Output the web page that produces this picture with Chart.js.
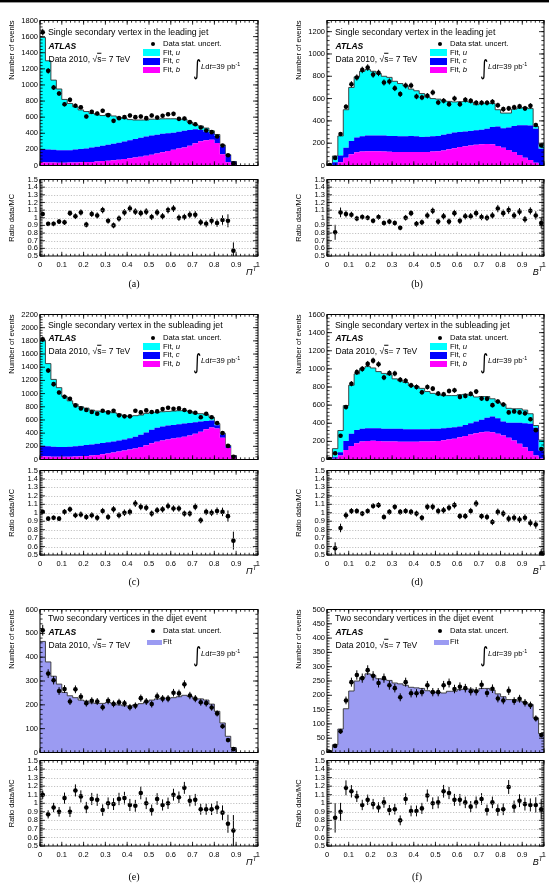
<!DOCTYPE html>
<html>
<head>
<meta charset="utf-8">
<title>Secondary vertex fits</title>
<script src="https://cdn.jsdelivr.net/npm/chart.js@4.4.1/dist/chart.umd.min.js"></script>
<style>
  body { margin: 0; width: 549px; height: 889px; position: relative; overflow: hidden; background: #fff; }
  canvas { position: absolute; }
  .lbl { position: absolute; white-space: nowrap; line-height: 1; color: #000; font-family: 'Liberation Sans', Arial, sans-serif; }
  .lbl sup { font-size: 70%; vertical-align: 0.5em; line-height: 0; }
  .sw { position: absolute; }
  .topbar { position: absolute; left: 0; top: 0; width: 549px; height: 2px; background: #000; border-bottom: 1px solid #999; }
</style>
</head>
<body>
<div class="topbar"></div>
<script>
// every panel: 40 bins between 0 and 1
var NBINS = 40;

// (a) Pi^T, single secondary vertex in the leading jet
var aFitU = [1385,1100,865,760,632,580,532,485,458,423,398,375,382,345,312,288,258,235,220,205,203,192,187,180,172,157,140,98,55,50,45,30,20,20,5,3,0,0,0,0];
var aFitC = [165,162,159,155,153,154,160,165,170,177,182,190,198,205,211,217,222,230,235,240,237,233,228,220,213,208,205,197,175,140,105,80,85,95,90,39,0,0,0,0];
var aFitB = [40,38,36,35,35,36,38,40,42,45,50,55,60,65,72,80,90,100,110,120,135,150,165,180,195,210,225,245,275,300,315,320,280,140,40,8,0,0,0,0];
var aData = [1655,1175,968,894,761,815,741,724,608,666,645,679,625,554,588,600,621,600,608,588,621,596,617,637,641,579,583,538,513,472,434,414,360,248,128,28,null,null,null,null];
var aRatio = [1.05,0.92,0.92,0.95,0.94,1.06,1.02,1.07,0.91,1.05,1.03,1.10,0.96,0.90,0.99,1.07,1.12,1.08,1.06,1.08,1.01,1.07,1.02,1.10,1.12,1.00,1.01,1.04,1.04,0.94,0.92,0.96,0.93,0.97,0.96,0.57,null,null,null,null];

// (b) B^T, single secondary vertex in the leading jet
var bFitU = [8,55,175,340,480,545,583,592,575,557,532,525,490,473,453,420,408,390,357,338,330,305,290,275,272,270,258,230,235,230,210,150,135,130,150,155,160,152,20,40];
var bFitC = [2,25,60,90,120,132,137,140,142,141,142,141,143,142,142,145,142,135,136,137,137,140,140,140,135,133,130,129,130,137,155,175,175,200,235,265,290,308,305,145];
var bFitB = [0,5,30,70,100,118,125,128,128,127,126,124,122,120,120,120,120,120,122,125,128,135,145,155,165,172,180,186,190,193,190,175,160,140,120,95,70,50,25,5];
var bData = [3,68,283,527,729,789,857,878,815,830,744,753,693,640,717,717,619,610,625,655,565,580,550,601,550,589,580,562,562,562,571,540,505,512,522,530,512,535,363,179];
var bRatio = [null,0.81,1.07,1.05,1.04,0.99,1.01,1.00,0.96,1.01,0.93,0.95,0.93,0.87,1.00,1.06,0.92,0.94,1.03,1.09,0.95,1.02,0.95,1.06,0.96,1.02,1.02,1.06,1.01,1.00,1.03,1.12,1.06,1.10,1.03,1.08,0.98,1.09,1.03,0.93];

// (c) Pi^T, single secondary vertex in the subleading jet
var cFitU = [1600,1255,1020,900,765,695,640,590,560,522,497,475,468,435,400,360,333,320,300,290,265,235,225,215,210,205,200,175,135,120,95,50,25,15,10,5,0,0,0,0];
var cFitC = [160,155,153,150,150,153,155,160,165,166,168,170,170,170,170,170,172,177,185,195,205,210,210,210,207,205,200,190,175,155,125,105,50,55,30,20,0,0,0,0];
var cFitB = [50,45,42,40,40,42,45,50,55,62,70,80,92,105,120,135,150,168,190,215,245,270,290,305,318,330,345,365,390,420,460,485,470,330,175,35,0,0,0,0];
var cData = [1823,1350,1143,1017,952,921,821,775,750,720,695,740,715,740,670,655,655,740,715,745,720,730,765,785,770,775,750,725,710,640,695,640,554,403,206,40,null,null,null,null];
var cRatio = [1.01,0.93,0.94,0.93,1.01,1.04,0.97,0.98,0.95,0.97,0.94,1.02,0.95,1.04,0.97,1.00,1.01,1.11,1.07,1.06,0.99,1.03,1.04,1.08,1.05,1.05,0.99,0.99,1.07,0.91,1.01,1.00,1.02,1.01,0.96,0.67,null,null,null,null];

// (d) B^T, single secondary vertex in the subleading jet
var dFitU = [10,95,240,390,535,620,665,680,665,625,610,595,550,532,515,480,470,450,415,392,375,360,355,350,350,340,310,270,255,235,195,180,190,160,155,155,145,110,25,115];
var dFitC = [3,17,35,100,135,145,140,140,138,140,140,140,142,142,140,140,139,137,135,136,135,133,130,125,120,120,125,130,140,155,175,170,155,165,195,230,265,300,305,88];
var dFitB = [2,8,45,105,150,180,200,205,207,205,200,200,198,196,195,195,196,198,200,202,205,212,220,230,245,260,275,290,300,305,300,285,265,240,210,175,135,95,45,12];
var dData = [5,69,262,578,836,964,1000,1055,1091,1051,905,953,949,880,869,818,800,742,800,782,727,720,756,764,691,702,724,749,673,669,600,640,607,520,531,520,509,444,324,116];
var dRatio = [null,0.58,0.82,0.97,1.02,1.02,0.99,1.02,1.08,1.09,0.95,1.01,1.07,1.01,1.02,1.01,0.99,0.94,1.07,1.07,1.02,1.03,1.06,1.09,0.96,0.96,1.02,1.11,0.96,0.95,0.89,1.01,0.99,0.93,0.94,0.92,0.94,0.88,0.86,0.52];

// (e) Pi^T, two secondary vertices in the dijet event
var eFit = [466,380,320,287,252,238,230,220,216,208,206,206,210,205,200,196,195,200,205,212,220,225,228,228,230,234,240,235,225,225,220,203,173,124,68,21,0,0,0,0];
var eData = [513,331,303,258,266,214,265,234,207,217,214,190,217,204,211,206,190,196,228,214,203,236,226,226,251,248,286,239,226,211,207,189,164,110,52,14,null,null,null,null];
var eRatio = [1.10,0.87,0.95,0.90,1.06,0.90,1.15,1.08,0.95,1.05,1.04,0.92,1.00,0.99,1.05,1.06,0.98,0.97,1.12,1.00,0.92,1.05,0.98,1.00,1.10,1.07,1.18,1.03,1.04,0.93,0.93,0.93,0.95,0.89,0.76,0.68,null,null,null,null];

// (f) B^T, two secondary vertices in the dijet event
var fFit = [3,27,82,153,215,250,262,275,270,258,255,252,243,240,235,228,226,224,216,212,210,208,214,214,220,222,222,215,224,224,218,205,195,185,185,180,175,168,121,66];
var fData = [2,23,74,182,246,271,260,288,268,243,260,235,225,193,246,207,207,211,235,211,211,235,243,222,230,225,214,214,237,208,223,189,182,216,180,188,174,165,119,61];
var fRatio = [null,0.83,0.90,1.18,1.14,1.08,0.98,1.04,0.99,0.95,1.01,0.92,0.93,0.80,1.05,0.91,0.91,0.94,1.09,1.00,1.01,1.14,1.12,1.04,1.04,1.01,0.96,1.01,1.05,0.92,1.01,0.92,0.93,1.19,0.96,1.03,0.99,0.98,0.98,0.93];

// page layout (plot frames in page pixels)
var ROWS = [
  { pt: 20,  pb: 166, rt: 179, rb: 256, cap: 284, tdy: 12,   ldy: 24 },
  { pt: 314, pb: 460, rt: 470, rb: 555, cap: 582, tdy: 10.5, ldy: 24 },
  { pt: 609, pb: 753, rt: 760, rb: 846, cap: 877, tdy: 9,    ldy: 22 }
];
var COLS = [ { l: 40, r: 258, cap: 134 }, { l: 327, r: 544, cap: 417 } ];

var COLORS3 = ['#ff00ff', '#0000ff', '#00ffff'];   // b, c, u  (bottom to top)
var COLOR1 = ['#9b9bf2'];

Chart.defaults.font.family = "'Liberation Sans', Arial, sans-serif";
Chart.defaults.color = '#000';

// bin i covers [i/NBINS, (i+1)/NBINS]; last edge repeats the last bin
function edgePoints(arr) {
  var pts = [];
  for (var i = 0; i <= NBINS; i++) {
    pts.push({ x: i / NBINS, y: arr[Math.min(i, NBINS - 1)] });
  }
  return pts;
}
function centerPoints(arr) {
  return arr.map(function (v, i) { return { x: (i + 0.5) / NBINS, y: v }; });
}
function fmt(v) { return String(Math.round(v * 100) / 100); }

// ROOT style frame: box, inward ticks on all four sides, optional dashed grid
var rootFrame = {
  id: 'rootFrame',
  afterDatasetsDraw: function (chart, args, o) {
    var a = chart.chartArea, ctx = chart.ctx, xs = chart.scales.x, ys = chart.scales.y;
    ctx.save();
    if (o.grid) {
      ctx.strokeStyle = '#9a9a9a'; ctx.lineWidth = 0.6; ctx.setLineDash([1.2, 1.6]);
      ctx.beginPath();
      for (var k = 1; ; k++) {
        var v = ys.min + k * o.yMajor;
        if (v >= ys.max - 1e-9) break;
        var py = Math.round(ys.getPixelForValue(v)) + 0.5;
        ctx.moveTo(a.left, py); ctx.lineTo(a.right, py);
      }
      ctx.stroke();
      ctx.setLineDash([]);
    }
    ctx.strokeStyle = '#000'; ctx.lineWidth = 0.8;
    ctx.beginPath();
    tickMarks(xs, o.xMinor, 2.2, true);
    tickMarks(xs, o.xMajor, 4.2, true);
    tickMarks(ys, o.yMinor, 2.6, false);
    tickMarks(ys, o.yMajor, 5, false);
    ctx.stroke();
    ctx.lineWidth = 1;
    ctx.strokeRect(a.left, a.top, a.width, a.height);
    ctx.restore();

    function tickMarks(s, step, len, horiz) {
      for (var k = 0; ; k++) {
        var v = s.min + k * step;
        if (v > s.max + 1e-9) break;
        var p = s.getPixelForValue(v);
        if (horiz) {
          ctx.moveTo(p, a.bottom); ctx.lineTo(p, a.bottom - len);
          ctx.moveTo(p, a.top); ctx.lineTo(p, a.top + len);
        } else {
          ctx.moveTo(a.left, p); ctx.lineTo(a.left + len, p);
          ctx.moveTo(a.right, p); ctx.lineTo(a.right - len, p);
        }
      }
    }
  }
};

var errorBars = {
  id: 'errorBars',
  afterDatasetsDraw: function (chart) {
    var ctx = chart.ctx, a = chart.chartArea, ys = chart.scales.y;
    ctx.save();
    ctx.beginPath(); ctx.rect(a.left, a.top, a.width, a.height); ctx.clip();
    ctx.strokeStyle = '#000'; ctx.lineWidth = 1;
    chart.data.datasets.forEach(function (ds, i) {
      if (!ds.errors) return;
      var meta = chart.getDatasetMeta(i);
      ctx.beginPath();
      meta.data.forEach(function (pt, j) {
        var v = ds.data[j].y, e = ds.errors[j];
        if (v == null || e == null) return;
        ctx.moveTo(pt.x, ys.getPixelForValue(v - e));
        ctx.lineTo(pt.x, ys.getPixelForValue(v + e));
      });
      ctx.stroke();
    });
    ctx.restore();
  }
};

function makeCanvas(left, top, w, h) {
  var c = document.createElement('canvas');
  c.width = w; c.height = h;
  c.style.left = left + 'px'; c.style.top = top + 'px';
  c.style.width = w + 'px'; c.style.height = h + 'px';
  document.body.appendChild(c);
  return c;
}

function chartOptions(cfg) {
  return {
    responsive: false, animation: false, events: [],
    layout: { padding: { left: 0, right: 6, top: 6, bottom: cfg.showX ? 0 : 6 } },
    plugins: {
      legend: { display: false }, tooltip: { enabled: false },
      rootFrame: { grid: cfg.grid, xMajor: 0.1, xMinor: 0.02, yMajor: cfg.ystep, yMinor: cfg.yminor }
    },
    scales: {
      x: {
        type: 'linear', min: 0, max: 1, display: cfg.showX,
        grid: { display: false, drawTicks: false }, border: { display: false },
        ticks: { stepSize: 0.1, autoSkip: false, maxRotation: 0, padding: 4, color: '#000', font: { size: 7.5 }, callback: fmt },
        afterFit: function (s) { if (cfg.showX) s.height = 16; }
      },
      y: {
        min: cfg.ymin, max: cfg.ymax, stacked: cfg.stacked,
        grid: { display: false, drawTicks: false }, border: { display: false },
        ticks: { stepSize: cfg.ystep, autoSkip: false, includeBounds: false, maxTicksLimit: 100, padding: 2, color: '#000', font: { size: 7.5 }, callback: fmt },
        title: { display: true, text: cfg.ytitle, align: cfg.talign, color: '#000', font: { size: 7.5 }, padding: { top: 7.5, bottom: 0 } },
        afterFit: function (s) { s.width = 40; }
      }
    }
  };
}

function drawMain(p) {
  var r = ROWS[p.row], c = COLS[p.col];
  var cv = makeCanvas(c.l - 40, r.pt - 6, c.r - c.l + 46, r.pb - r.pt + 12);
  var colors = p.comps.length === 3 ? COLORS3 : COLOR1;
  var datasets = p.comps.map(function (arr, k) {
    var isTop = k === p.comps.length - 1;
    return {
      data: edgePoints(arr), stepped: 'before', stack: 'fit', order: k + 1,
      fill: k === 0 ? 'origin' : '-1',
      backgroundColor: colors[k],
      borderColor: isTop ? '#333' : 'rgba(0,0,0,0)', borderWidth: isTop ? 0.9 : 0,
      pointRadius: 0
    };
  });
  datasets.push({
    data: centerPoints(p.data), showLine: false, stack: 'data', order: 0,
    pointRadius: 2.3, pointBackgroundColor: '#000', pointBorderWidth: 0,
    errors: p.data.map(function (v) { return v == null ? null : Math.sqrt(v); })
  });
  new Chart(cv, {
    type: 'line',
    data: { datasets: datasets },
    options: chartOptions({ showX: false, grid: false, ymin: 0, ymax: p.ymax, ystep: p.ystep, yminor: p.yminor,
      stacked: p.comps.length > 1, ytitle: 'Number of events', talign: 'end' }),
    plugins: [errorBars, rootFrame]
  });
}

function drawRatio(p) {
  var r = ROWS[p.row], c = COLS[p.col];
  var cv = makeCanvas(c.l - 40, r.rt - 6, c.r - c.l + 46, r.rb - r.rt + 22);
  var errs = p.ratio.map(function (v, i) {
    var n = p.data[i];
    return (v == null || !n) ? null : v / Math.sqrt(n);
  });
  new Chart(cv, {
    type: 'line',
    data: { datasets: [{
      data: centerPoints(p.ratio), showLine: false,
      pointRadius: 2.3, pointBackgroundColor: '#000', pointBorderWidth: 0, errors: errs
    }] },
    options: chartOptions({ showX: true, grid: true, ymin: 0.5, ymax: 1.5, ystep: 0.1, yminor: 0.02,
      stacked: false, ytitle: 'Ratio data/MC', talign: 'center' }),
    plugins: [errorBars, rootFrame]
  });
}

function put(html, x, y, style, anchor) {
  var d = document.createElement('div');
  d.className = 'lbl';
  d.innerHTML = html;
  var tx = anchor === 'r' ? '-100%' : anchor === 'c' ? '-50%' : '0';
  d.style.cssText = 'left:' + x + 'px;top:' + y + 'px;transform:translate(' + tx + ',-50%);' + (style || '');
  document.body.appendChild(d);
}
function swatch(x, y, w, h, color, round) {
  var d = document.createElement('div');
  d.className = 'sw';
  d.style.cssText = 'left:' + x + 'px;top:' + y + 'px;width:' + w + 'px;height:' + h + 'px;background:' + color + (round ? ';border-radius:50%' : '');
  document.body.appendChild(d);
}

function drawLabels(p) {
  var r = ROWS[p.row], c = COLS[p.col];
  var L = c.l, T = r.pt;
  put(p.title, L + 8, T + r.tdy, 'font-size:8.8px');
  put('ATLAS', L + 8.5, T + r.tdy + 13.5, 'font-size:8.5px;font-weight:bold;font-style:italic');
  put('Data 2010, √<span style="text-decoration:overline">s</span>= 7 TeV', L + 8.5, T + r.tdy + 26.5, 'font-size:8.5px');
  var ly = T + r.ldy;
  swatch(L + 110.7, ly - 2.3, 4.6, 4.6, '#000', true);
  put('Data stat. uncert.', L + 123, ly, 'font-size:7.7px');
  if (p.comps.length === 3) {
    var names = ['Fit, <i>u</i>', 'Fit, <i>c</i>', 'Fit, <i>b</i>'];
    var cols = [COLORS3[2], COLORS3[1], COLORS3[0]];
    for (var k = 0; k < 3; k++) {
      var cy = ly + 8.7 + k * 8.7;
      swatch(L + 103, cy - 3.3, 17, 6.7, cols[k]);
      put(names[k], L + 123, cy, 'font-size:7.7px');
    }
  } else {
    swatch(L + 107, ly + 8.5, 15, 5.5, COLOR1[0]);
    put('Fit', L + 123, ly + 11, 'font-size:7.7px');
  }
  put('∫', L + 152, ly + 23.5, "font-size:21px;font-family:'DejaVu Sans';transform:translate(0,-50%) scaleX(0.75)");
  put('<i>L</i>d<i>t</i>=39 pb<sup>-1</sup>', L + 161, ly + 23, 'font-size:7.7px');
  put('<i>' + p.xlab + '</i><sup><i>T</i></sup>', c.r - 1.5, r.rb + 15.5, 'font-size:9px', 'r');
  put(p.name, c.cap, r.cap, "font-size:10px;font-family:'Liberation Serif'", 'c');
}

var panels = [
  { name: '(a)', col: 0, row: 0, ymax: 1800, ystep: 200, yminor: 40, xlab: 'Π',
    title: 'Single secondary vertex in the leading jet', comps: [aFitB, aFitC, aFitU], data: aData, ratio: aRatio },
  { name: '(b)', col: 1, row: 0, ymax: 1300, ystep: 200, yminor: 40, xlab: 'B',
    title: 'Single secondary vertex in the leading jet', comps: [bFitB, bFitC, bFitU], data: bData, ratio: bRatio },
  { name: '(c)', col: 0, row: 1, ymax: 2200, ystep: 200, yminor: 40, xlab: 'Π',
    title: 'Single secondary vertex in the subleading jet', comps: [cFitB, cFitC, cFitU], data: cData, ratio: cRatio },
  { name: '(d)', col: 1, row: 1, ymax: 1600, ystep: 200, yminor: 40, xlab: 'B',
    title: 'Single secondary vertex in the subleading jet', comps: [dFitB, dFitC, dFitU], data: dData, ratio: dRatio },
  { name: '(e)', col: 0, row: 2, ymax: 600, ystep: 100, yminor: 20, xlab: 'Π',
    title: 'Two secondary vertices in the dijet event', comps: [eFit], data: eData, ratio: eRatio },
  { name: '(f)', col: 1, row: 2, ymax: 500, ystep: 50, yminor: 10, xlab: 'B',
    title: 'Two secondary vertices in the dijet event', comps: [fFit], data: fData, ratio: fRatio }
];

panels.forEach(function (p) {
  drawMain(p);
  drawRatio(p);
  drawLabels(p);
});
</script>
</body>
</html>
